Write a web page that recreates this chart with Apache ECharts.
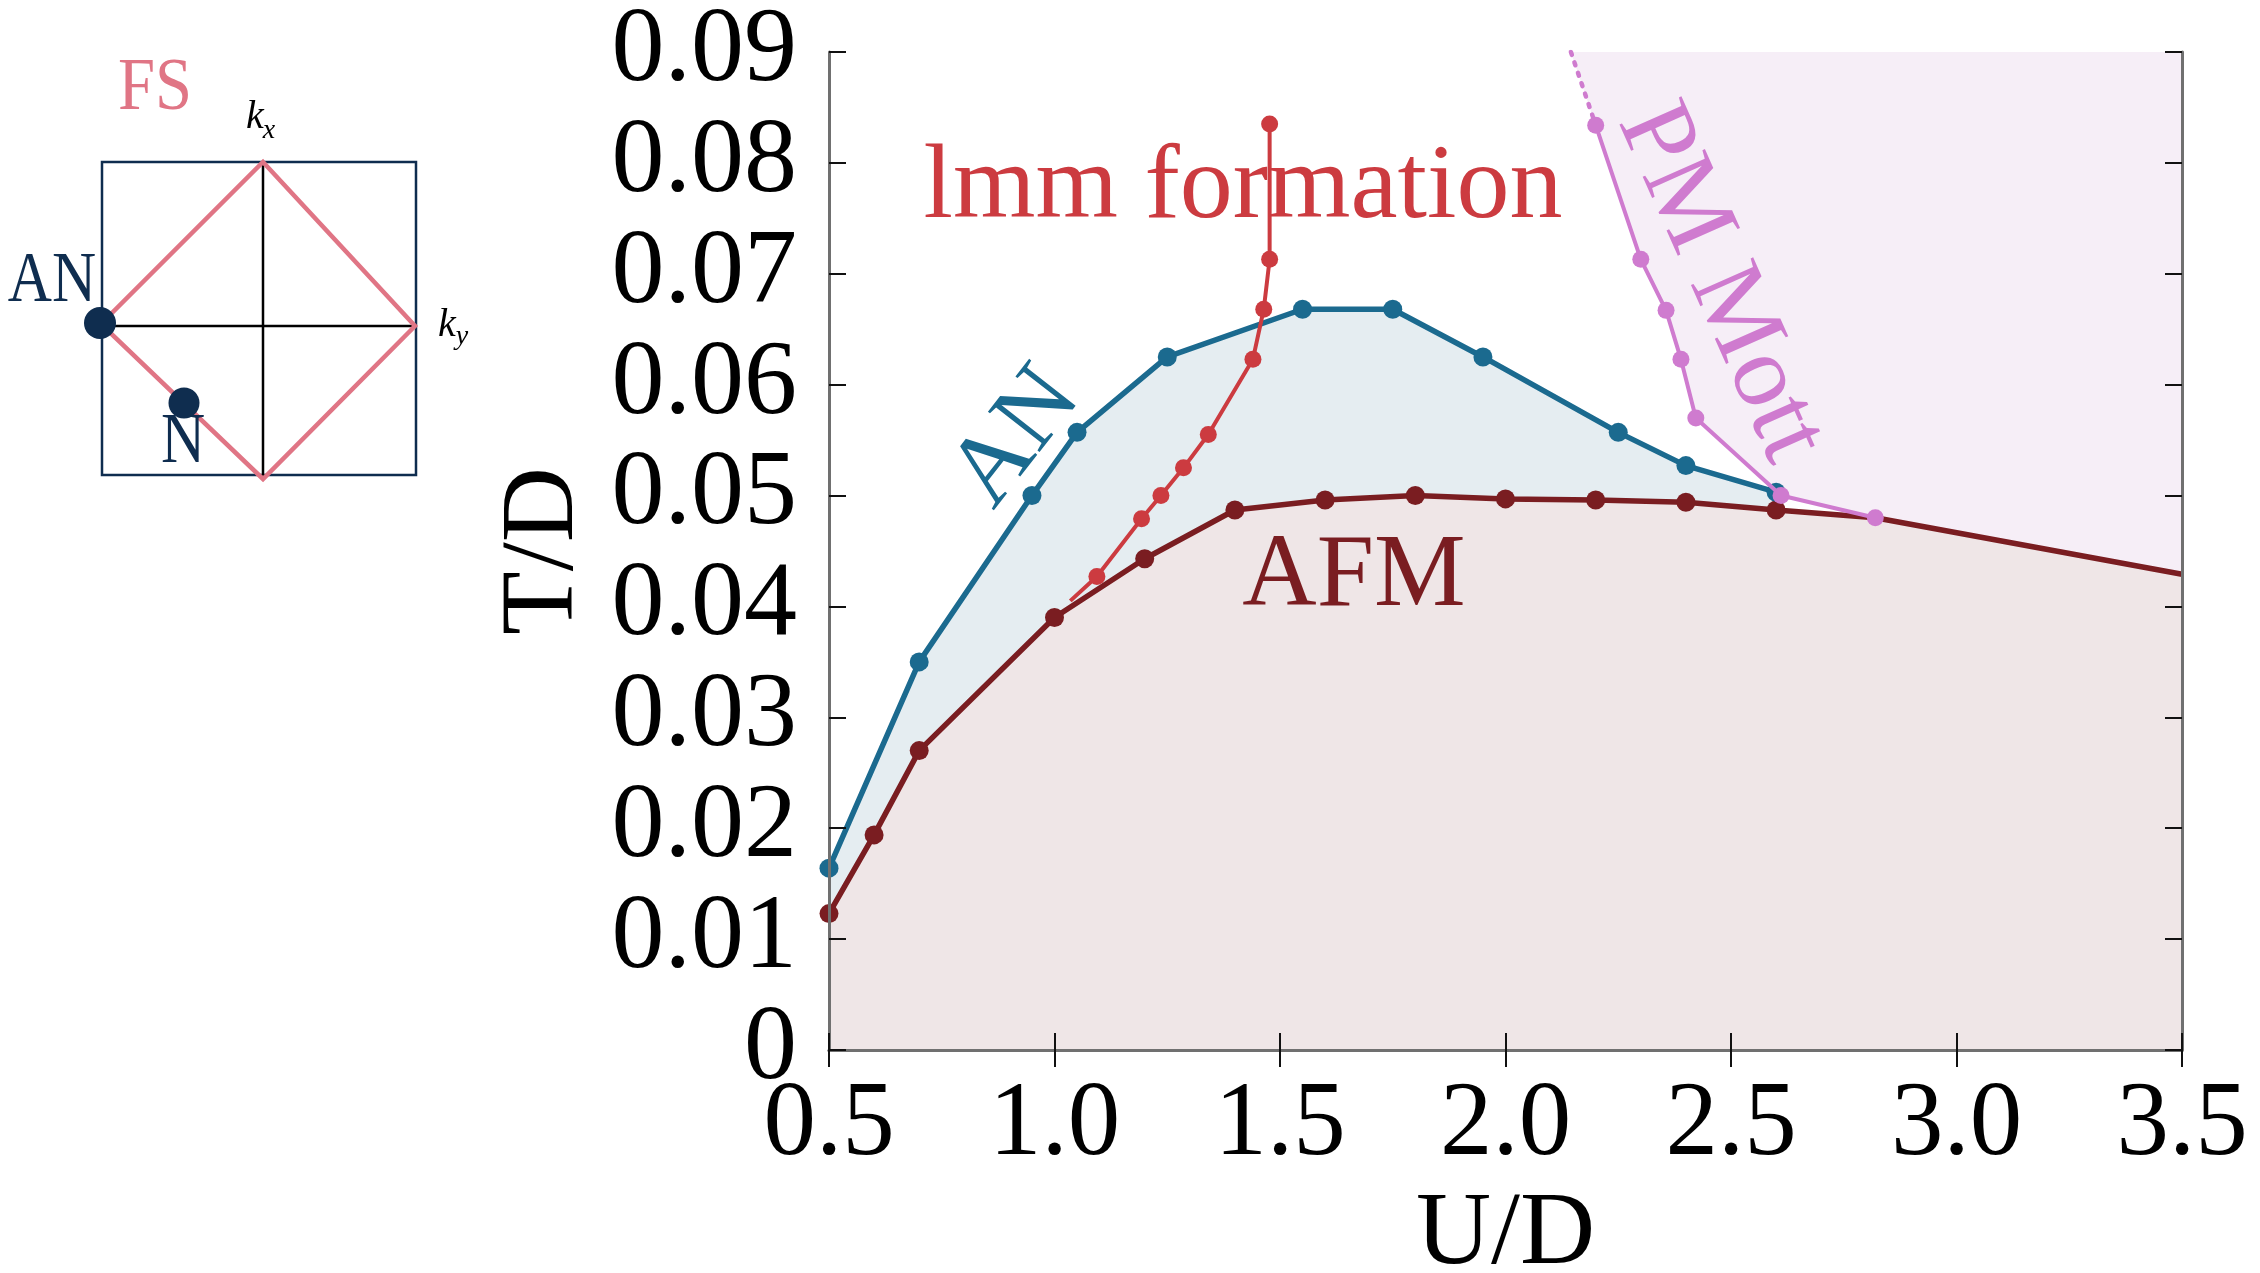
<!DOCTYPE html>
<html>
<head>
<meta charset="utf-8">
<title>Phase diagram T/D vs U/D</title>
<script src="https://cdn.jsdelivr.net/npm/echarts@6/dist/echarts.min.js"></script>
<style>
  html, body { margin: 0; padding: 0; background: #ffffff; }
  #chart { width: 2260px; height: 1273px; }
</style>
</head>
<body>
<div id="chart"></div>
<script>
// ---- axis ranges ----
const U_MIN = 0.5, U_MAX = 3.5, U_STEP = 0.5;
const T_MIN = 0, T_MAX = 0.09, T_STEP = 0.01;

// ---- AN (antinodal) crossover line ----
const anU = [0.5, 0.7, 0.95, 1.05, 1.25, 1.55, 1.75, 1.95, 2.25, 2.4, 2.6];
const anT = [0.0164, 0.035, 0.050, 0.0557, 0.0625, 0.0668, 0.0668, 0.0625, 0.0557, 0.0527, 0.0503];

// ---- AFM transition line (computed points) ----
const afmU = [0.5, 0.6, 0.7, 1.0, 1.2, 1.4, 1.6, 1.8, 2.0, 2.2, 2.4, 2.6];
const afmT = [0.0123, 0.0194, 0.027, 0.039, 0.0443, 0.0487, 0.0496, 0.050, 0.0497, 0.0496, 0.0494, 0.0487];
// AFM line continued to strong coupling (no symbols)
const afmTailU = [2.6, 2.82, 3.5];
const afmTailT = [0.0487, 0.048, 0.0429];

// ---- local moment (lmm) formation line ----
const lmmU = [1.035, 1.094, 1.193, 1.236, 1.286, 1.341, 1.44, 1.464, 1.477, 1.477];
const lmmT = [0.0405, 0.0427, 0.0479, 0.050, 0.0525, 0.0555, 0.0623, 0.0668, 0.0713, 0.0835];

// ---- paramagnetic Mott boundary ----
const pmU = [2.2, 2.3, 2.356, 2.389, 2.422, 2.611, 2.82];
const pmT = [0.0834, 0.0713, 0.0667, 0.0623, 0.057, 0.050, 0.048];
// extrapolated (dotted) part towards the top
const pmDotU = [2.145, 2.2];
const pmDotT = [0.09, 0.0834];

// ---- colours ----
const C_AN = '#1b6a8f', C_AN_FILL = '#e5edf1';
const C_AFM = '#7a1d21', C_AFM_FILL = '#efe6e7';
const C_LMM = '#cc3b40';
const C_PM = '#cf7bcf', C_PM_FILL = '#f6eef7';
const C_NAVY = '#0f2d4f', C_FS = '#e07585';
const SERIF = '"Liberation Serif", "DejaVu Serif", serif';

const zip = (xs, ys) => xs.map((x, i) => [x, ys[i]]);

const anData = zip(anU, anT);
const afmData = zip(afmU, afmT);
const afmTailData = zip(afmTailU, afmTailT);
const lmmData = zip(lmmU, lmmT);
const pmData = zip(pmU, pmT);
const pmDotData = zip(pmDotU, pmDotT);

// upper boundary of the paramagnetic-Mott region: dotted part, PM line, AFM tail
const pmRegion = pmDotData.slice(0, 1).concat(pmData, afmTailData.slice(2));
// full AFM boundary for the shaded ordered phase
const afmRegion = afmData.concat(afmTailData.slice(1));

const chart = echarts.init(document.getElementById('chart'), null, { renderer: 'canvas' });

const tickStyle = { lineStyle: { color: '#111', width: 2 } };
const axisLineStyle = { lineStyle: { color: '#707070', width: 3 } };

const fillSeries = (name, data, color, origin) => ({
  name, type: 'line', data, z: 1, silent: true,
  symbol: 'none', lineStyle: { width: 0, opacity: 0 },
  areaStyle: { color, opacity: 1, origin }
});

const option = {
  backgroundColor: '#ffffff',
  animation: false,
  grid: { left: 829, right: 78, top: 52, bottom: 223, containLabel: false, outerBoundsMode: 'none' },
  xAxis: [
    {
      type: 'value', min: U_MIN, max: U_MAX, interval: U_STEP, z: 10,
      name: 'U/D', nameLocation: 'middle', nameGap: 130,
      nameTextStyle: { fontFamily: SERIF, fontSize: 104, color: '#000' },
      axisLine: axisLineStyle,
      axisTick: Object.assign({ inside: true, length: 17 }, tickStyle),
      axisLabel: {
        margin: 24, fontFamily: SERIF, fontSize: 105, color: '#000',
        showMinLabel: true, showMaxLabel: true, hideOverlap: false,
        formatter: v => v.toFixed(1)
      },
      splitLine: { show: false }
    },
    {
      type: 'value', position: 'top', min: U_MIN, max: U_MAX, interval: U_STEP, z: 10,
      axisLine: axisLineStyle,
      axisTick: Object.assign({ inside: true, length: 17 }, tickStyle),
      axisLabel: { show: false }, splitLine: { show: false }
    }
  ],
  yAxis: [
    {
      type: 'value', min: T_MIN, max: T_MAX, interval: T_STEP, z: 10,
      name: 'T/D', nameLocation: 'middle', nameGap: 232, nameRotate: 90,
      nameTextStyle: { fontFamily: SERIF, fontSize: 104, color: '#000' },
      axisLine: axisLineStyle,
      axisTick: Object.assign({ inside: true, length: 17 }, tickStyle),
      axisLabel: {
        margin: 32, fontFamily: SERIF, fontSize: 106, color: '#000',
        showMinLabel: true, showMaxLabel: true, hideOverlap: false,
        formatter: v => (Math.abs(v) < 1e-9 ? '0' : v.toFixed(2))
      },
      splitLine: { show: false }
    },
    {
      type: 'value', position: 'right', min: T_MIN, max: T_MAX, interval: T_STEP, z: 10,
      axisLine: axisLineStyle,
      axisTick: Object.assign({ inside: true, length: 17 }, tickStyle),
      axisLabel: { show: false }, splitLine: { show: false }
    }
  ],
  series: [
    // shaded phases
    fillSeries('PM Mott region', pmRegion, C_PM_FILL, 'end'),
    fillSeries('AN region', anData, C_AN_FILL, 'start'),
    fillSeries('AFM region', afmRegion, C_AFM_FILL, 'start'),
    // lines
    {
      name: 'AFM tail', type: 'line', data: afmTailData, z: 3,
      symbol: 'none', lineStyle: { color: C_AFM, width: 5.5 }
    },
    {
      name: 'AFM', type: 'line', data: afmData, z: 4,
      symbol: 'circle', symbolSize: 19,
      lineStyle: { color: C_AFM, width: 5.5 }, itemStyle: { color: C_AFM }
    },
    {
      name: 'AN', type: 'line', data: anData, z: 4,
      symbol: 'circle', symbolSize: 19,
      lineStyle: { color: C_AN, width: 5.5 }, itemStyle: { color: C_AN }
    },
    {
      name: 'lmm formation', type: 'line', data: lmmData, z: 5,
      symbol: (v, p) => (p.dataIndex === 0 ? 'none' : 'circle'), symbolSize: 17,
      lineStyle: { color: C_LMM, width: 4 }, itemStyle: { color: C_LMM }
    },
    {
      name: 'PM Mott dotted', type: 'line', data: pmDotData, z: 5,
      symbol: 'none', lineStyle: { color: C_PM, width: 4.5, type: [3, 8], cap: 'round' }
    },
    {
      name: 'PM Mott', type: 'line', data: pmData, z: 6,
      symbol: 'circle', symbolSize: 17,
      lineStyle: { color: C_PM, width: 4 }, itemStyle: { color: C_PM }
    }
  ],
  graphic: [
    // ---- phase labels ----
    { type: 'text', z: 100, x: 1243, y: 189,
      style: { text: 'lmm formation', fill: C_LMM, fontFamily: SERIF, fontSize: 106, align: 'center', verticalAlign: 'middle' } },
    { type: 'text', z: 100, x: 1354, y: 578,
      style: { text: 'AFM', fill: C_AFM, fontFamily: SERIF, fontSize: 103, align: 'center', verticalAlign: 'middle' } },
    { type: 'text', z: 100, x: 1017, y: 438, rotation: 52 * Math.PI / 180,
      style: { text: 'AN', fill: C_AN, fontFamily: SERIF, fontSize: 100, align: 'center', verticalAlign: 'middle' } },
    { type: 'text', z: 100, x: 1720, y: 283, rotation: -66 * Math.PI / 180,
      style: { text: 'PM Mott', fill: C_PM, fontFamily: SERIF, fontSize: 104, align: 'center', verticalAlign: 'middle' } },

    // ---- Fermi surface sketch ----
    { type: 'rect', z: 100, shape: { x: 102, y: 162, width: 314, height: 313 },
      style: { fill: 'none', stroke: C_NAVY, lineWidth: 2.5 } },
    { type: 'line', z: 100, shape: { x1: 263, y1: 162, x2: 263, y2: 476 },
      style: { stroke: '#000', lineWidth: 2.5 } },
    { type: 'line', z: 100, shape: { x1: 93, y1: 326, x2: 417, y2: 326 },
      style: { stroke: '#000', lineWidth: 2.5 } },
    { type: 'polygon', z: 101, shape: { points: [[263, 162], [415, 326], [263, 479], [101, 324]] },
      style: { fill: 'none', stroke: C_FS, lineWidth: 4.5 } },
    { type: 'circle', z: 102, shape: { cx: 100, cy: 323, r: 16 }, style: { fill: C_NAVY } },
    { type: 'circle', z: 102, shape: { cx: 184, cy: 403, r: 15.5 }, style: { fill: C_NAVY } },
    { type: 'text', z: 102, x: 155, y: 90, scaleX: 0.9,
      style: { text: 'FS', fill: C_FS, fontFamily: SERIF, fontSize: 74, align: 'center', verticalAlign: 'middle' } },
    { type: 'text', z: 102, x: 52, y: 282, scaleX: 0.85,
      style: { text: 'AN', fill: C_NAVY, fontFamily: SERIF, fontSize: 72, align: 'center', verticalAlign: 'middle' } },
    { type: 'text', z: 102, x: 183, y: 443, scaleX: 0.85,
      style: { text: 'N', fill: C_NAVY, fontFamily: SERIF, fontSize: 72, align: 'center', verticalAlign: 'middle' } },
    { type: 'text', z: 102, x: 255, y: 117,
      style: { text: 'k', fill: '#000', fontFamily: SERIF, fontStyle: 'italic', fontSize: 40, align: 'center', verticalAlign: 'middle' } },
    { type: 'text', z: 102, x: 269, y: 131,
      style: { text: 'x', fill: '#000', fontFamily: SERIF, fontStyle: 'italic', fontSize: 28, align: 'center', verticalAlign: 'middle' } },
    { type: 'text', z: 102, x: 447, y: 325,
      style: { text: 'k', fill: '#000', fontFamily: SERIF, fontStyle: 'italic', fontSize: 40, align: 'center', verticalAlign: 'middle' } },
    { type: 'text', z: 102, x: 462, y: 337,
      style: { text: 'y', fill: '#000', fontFamily: SERIF, fontStyle: 'italic', fontSize: 28, align: 'center', verticalAlign: 'middle' } }
  ]
};

chart.setOption(option);
</script>
</body>
</html>
